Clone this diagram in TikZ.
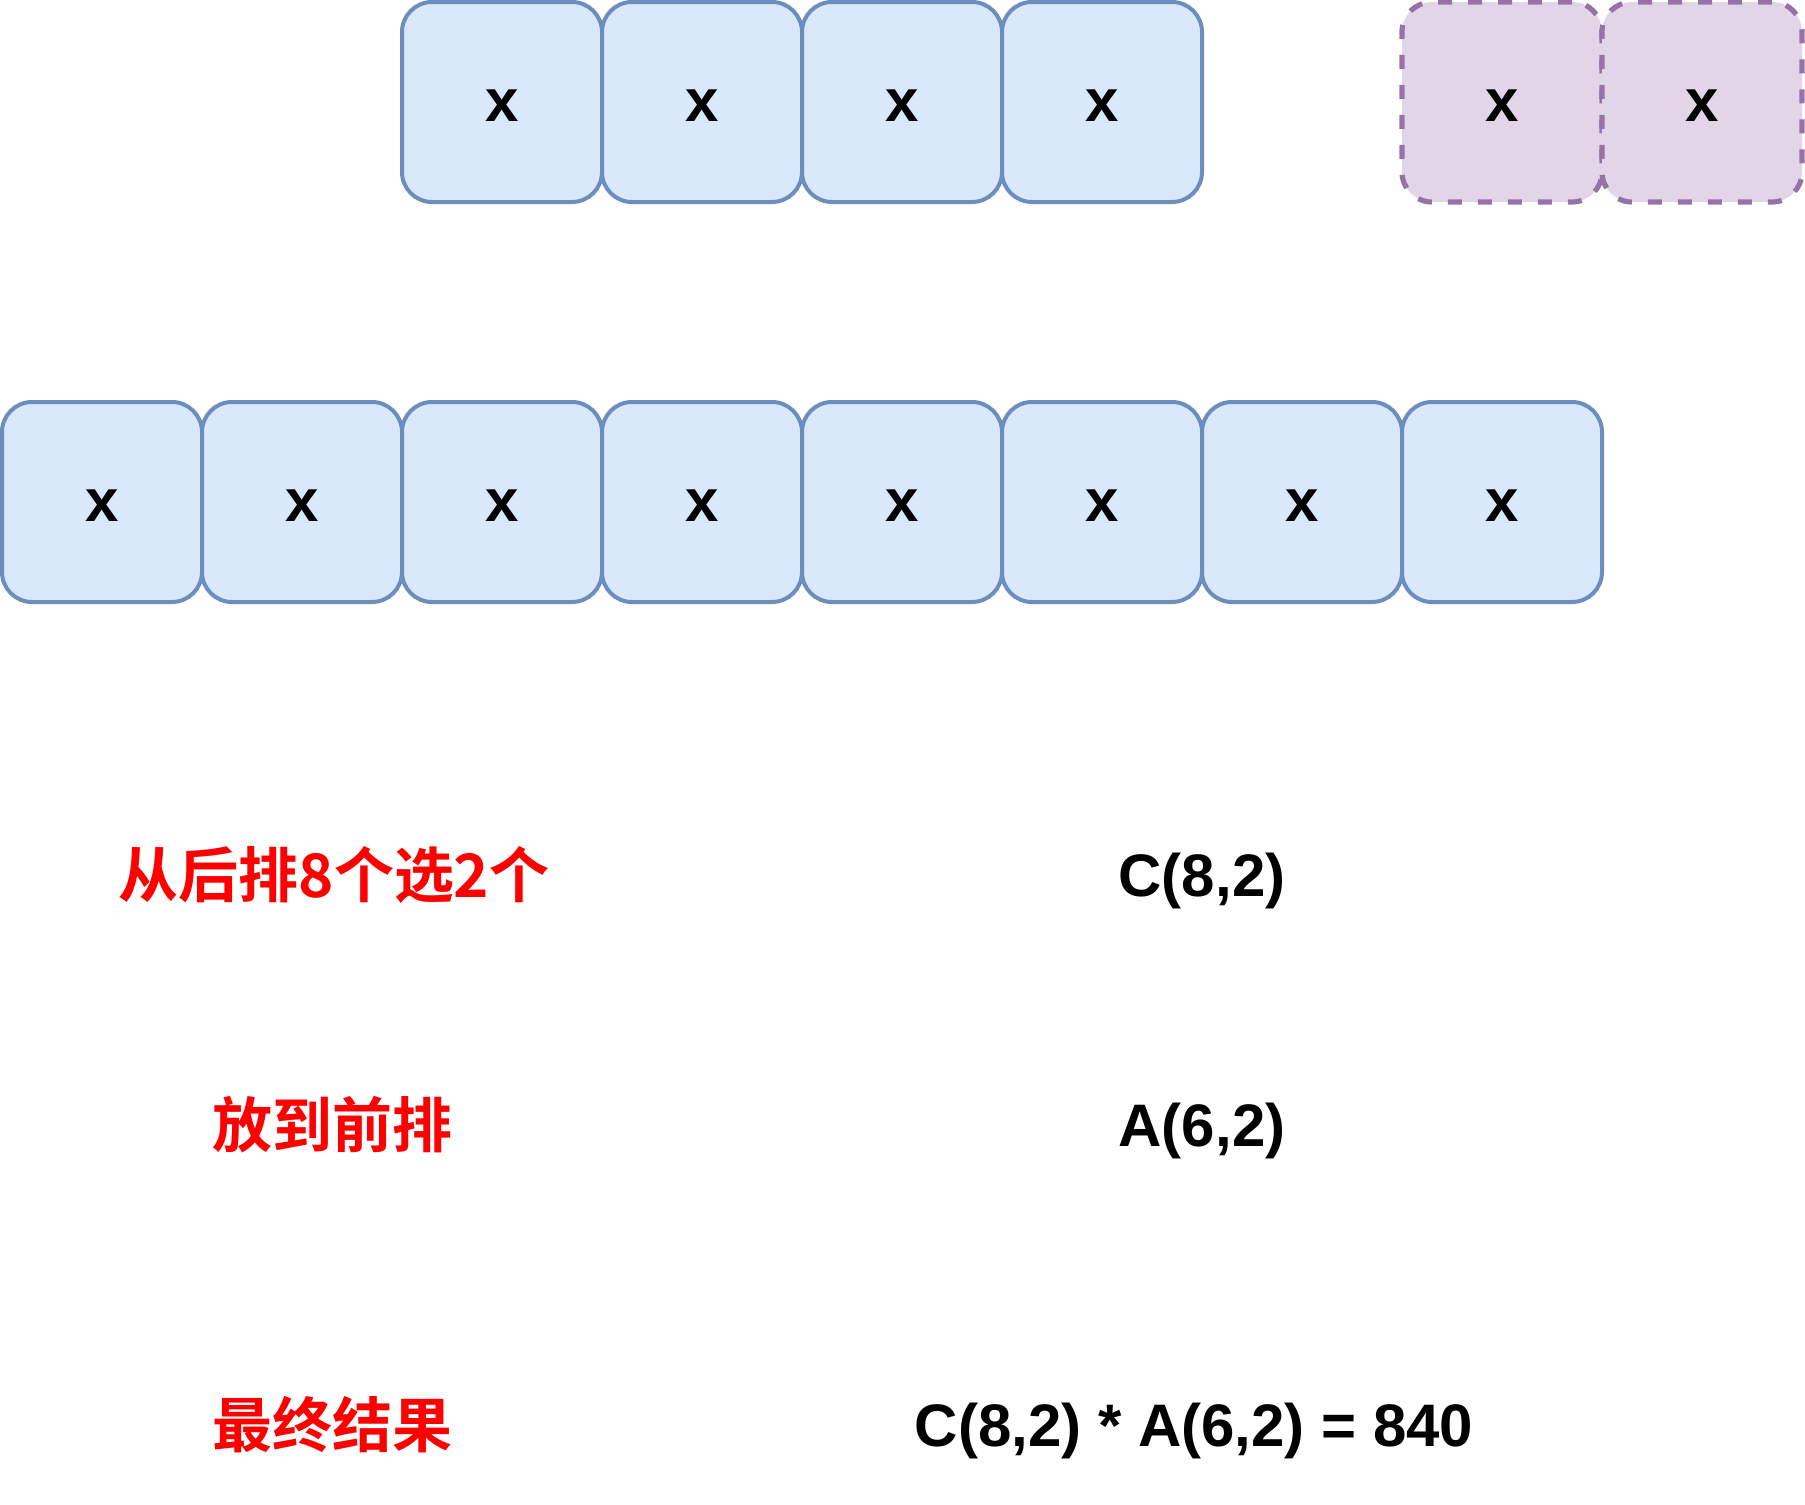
\documentclass[tikz,border=0pt]{standalone}
\usepackage{fontspec}
\setmainfont{Liberation Sans}
\newfontfamily\cjk{Noto Sans CJK SC}[BoldFont={Noto Sans CJK SC Bold}]
\usepackage{tikz}
\usetikzlibrary{positioning}
\definecolor{boxfill}{HTML}{DAE8FC}
\definecolor{boxline}{HTML}{6C8EBF}
\definecolor{pickfill}{HTML}{E1D5E7}
\definecolor{pickline}{HTML}{9673A6}
\definecolor{stepred}{HTML}{FF0000}

\begin{document}
\begin{tikzpicture}[x=0.5pt, y=-0.5pt,
        seat/.style={draw=boxline, fill=boxfill, line width=2pt,
            rounded corners=15pt, minimum width=100pt, minimum height=100pt,
            inner sep=0pt, text height=19pt, text depth=0pt,
            font=\bfseries\fontsize{30}{36}\selectfont},
        picked/.style={seat, draw=pickline, fill=pickfill, line width=2.6pt,
            dash pattern=on 7pt off 8pt},
        steptext/.style={anchor=base, text=stepred, inner sep=0pt,
            font=\cjk\bfseries\fontsize{30}{36}\selectfont},
        formula/.style={anchor=base, inner sep=0pt,
            font=\bfseries\fontsize{30}{36}\selectfont}]
            \useasboundingbox (0,0) rectangle (1805,1505);

            % front row
            \node[seat] (f1) at ( 502,102) {x};
            \node[seat] (f2) at ( 702,102) {x};
            \node[seat] (f3) at ( 902,102) {x};
            \node[seat] (f4) at (1102,102) {x};

            \node[picked] (p1) at (1502,102) {x};
            \node[picked] (p2) at (1702,102) {x};

            % back row
            \node[seat] (b1) at (  102,502) {x};
            \node[seat] (b2) at (  302,502) {x};
            \node[seat] (b3) at (  502,502) {x};
            \node[seat] (b4) at (  702,502) {x};
            \node[seat] (b5) at (  902,502) {x};
            \node[seat] (b6) at ( 1102,502) {x};
            \node[seat] (b7) at ( 1302,502) {x};
            \node[seat] (b8) at ( 1502,502) {x};

            % steps
            \node[steptext] (s1) at (334, 897) {从后排8个选2个};
            \node[steptext] (s2) at (332,1147) {放到前排};
            \node[steptext] (s3) at (332,1447) {最终结果};

            \node[formula] (r1) at (1202, 896) {C(8,2)};
            \node[formula] (r2) at (1202,1146) {A(6,2)};
            \node[formula] (r3) at (1194,1446) {C(8,2) * A(6,2) = 840};
        \end{tikzpicture}
\end{document}
